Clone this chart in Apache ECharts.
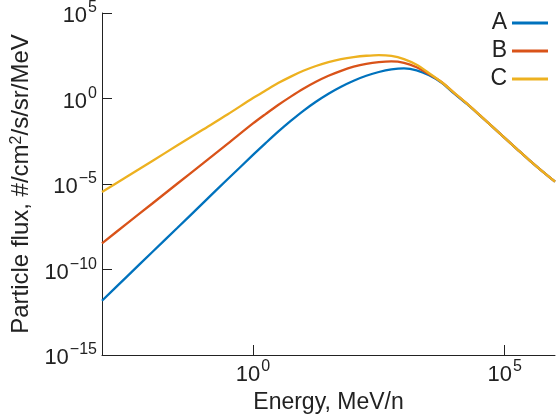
<!DOCTYPE html>
<html>
<head>
<meta charset="utf-8">
<script src="https://cdn.jsdelivr.net/npm/echarts@6/dist/echarts.min.js"></script>
<style>html,body{margin:0;padding:0;background:#fff}#c{width:557px;height:416px}</style>
</head>
<body>
<div id="c"></div>
<script>
const energy = [1e-3, 3.16e-3, 1e-2, 3.16e-2, 1e-1, 3.16e-1,
  1, 1.78, 3.16, 5.62, 10, 17.8, 31.6, 56.2, 100, 178, 316, 562, 1000, 1780, 3160, 5620,
  1e4, 1.78e4, 3.16e4, 5.62e4, 1e5, 1.78e5, 3.16e5, 5.62e5, 1e6];
const fluxA = [1.48e-12, 3.98e-11, 1.05e-9, 2.75e-8, 7.41e-7, 1.95e-5,
  5.01e-4, 2.45e-3, 1.15e-2, 4.90e-2, 0.191, 0.646, 1.91, 4.90, 11.0, 21.4, 35.5, 50.1, 57.5, 44.7, 22.9, 8.32,
  1.91, 0.479, 0.107, 2.34e-2, 5.01e-3, 1.07e-3, 2.34e-4, 5.50e-5, 1.38e-5];
const fluxB = [3.39e-9, 5.01e-8, 7.24e-7, 1.07e-5, 1.55e-4, 2.29e-3,
  3.47e-2, 0.123, 0.417, 1.29, 3.72, 9.55, 21.4, 41.7, 72.4, 107, 135, 148, 123, 67.6, 26.3, 8.91,
  2.09, 0.501, 0.110, 2.34e-2, 5.01e-3, 1.07e-3, 2.34e-4, 5.50e-5, 1.38e-5];
const fluxC = [3.39e-6, 2.75e-5, 2.24e-4, 1.82e-3, 1.48e-2, 0.120,
  1.07, 2.95, 7.94, 19.1, 41.7, 79.4, 135, 200, 263, 316, 347, 309, 200, 93.3, 30.2, 8.91,
  2.14, 0.501, 0.110, 2.34e-2, 5.01e-3, 1.07e-3, 2.34e-4, 5.50e-5, 1.38e-5];
const seriesNames = ['A', 'B', 'C'];
const seriesColors = ['#0072BD', '#D95319', '#EDB120'];
const xTickValues = [1, 1e5];
const yTickValues = [1e-15, 1e-10, 1e-5, 1, 1e5];

const fluxes = [fluxA, fluxB, fluxC];
function pair(f) { return energy.map((e, i) => [e, f[i]]); }
function powLabel(v) {
  const e = Math.round(Math.log10(v));
  const s = e < 0 ? '\u2212' + (-e) : String(e);
  return '{b|10}{s|' + s + '}';
}
const FONT = 'Liberation Sans';
const labelRich = {
  b: { fontSize: 22, fontFamily: FONT, color: '#222', lineHeight: 26, padding: [6, 0, 0, 0] },
  s: { fontSize: 16, fontFamily: FONT, color: '#222', verticalAlign: 'top', lineHeight: 26, padding: [0, 0, 0, 1] }
};
const chart = echarts.init(document.getElementById('c'), null, { renderer: 'canvas' });
chart.setOption({
  animation: false,
  backgroundColor: '#fff',
  grid: { left: 102, right: 2, top: 13, bottom: 61, containLabel: false, outerBoundsMode: 'none' },
  legend: {
    data: seriesNames.map(n => ({ name: n, icon: 'rect' })),
    orient: 'vertical',
    right: 4,
    top: 6,
    align: 'right',
    itemWidth: 36,
    itemHeight: 3,
    itemGap: 4,
    textStyle: { fontSize: 23, fontFamily: FONT, color: '#222', lineHeight: 24 }
  },
  xAxis: {
    type: 'log',
    logBase: 10,
    min: 1e-3,
    max: 1e6,
    name: 'Energy, MeV/n',
    nameLocation: 'middle',
    nameGap: 33,
    nameTextStyle: { fontSize: 23, fontFamily: FONT, color: '#222' },
    axisLine: { lineStyle: { color: '#222', width: 1 } },
    axisTick: { inside: true, length: 10, lineStyle: { color: '#222' }, customValues: xTickValues },
    axisLabel: { margin: 4, formatter: powLabel, rich: labelRich, customValues: xTickValues },
    splitLine: { show: false },
    minorTick: { show: false }
  },
  yAxis: {
    type: 'log',
    logBase: 10,
    min: 1e-15,
    max: 1e5,
    name: 'Particle flux, #/cm{s|2}/s/sr/MeV',
    nameLocation: 'middle',
    nameGap: 69,
    nameTextStyle: {
      fontSize: 24, fontFamily: FONT, color: '#222',
      rich: {
        s: { fontSize: 16, fontFamily: FONT, color: '#222', verticalAlign: 'top', padding: [0, 0, 6, 0] }
      }
    },
    axisLine: { show: true, lineStyle: { color: '#222', width: 1 } },
    axisTick: { show: true, inside: true, length: 10, lineStyle: { color: '#222' }, customValues: yTickValues },
    axisLabel: { margin: 5, formatter: powLabel, rich: labelRich, customValues: yTickValues },
    splitLine: { show: false },
    minorTick: { show: false }
  },
  series: seriesNames.map((n, i) => ({
    name: n,
    type: 'line',
    data: pair(fluxes[i]),
    smooth: 0.3,
    symbol: 'none',
    lineStyle: { color: seriesColors[i], width: 2.3 },
    itemStyle: { color: seriesColors[i] },
    z: 2 + i
  }))
});
</script>
</body>
</html>
